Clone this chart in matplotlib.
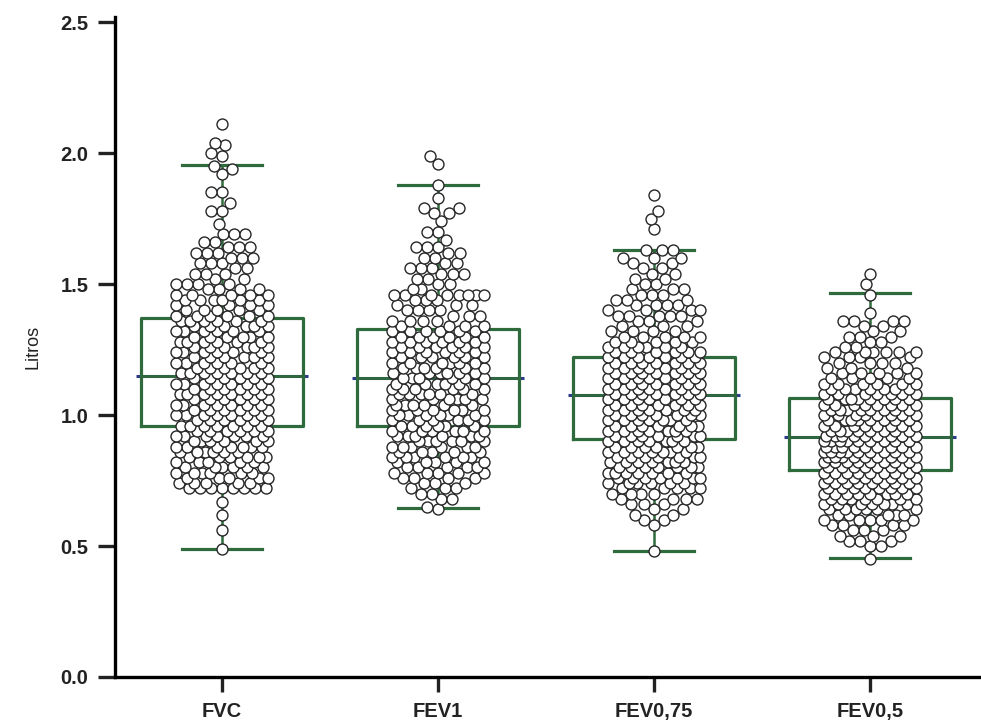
import numpy as np
import matplotlib
matplotlib.use('Agg')
import matplotlib.pyplot as plt

plt.rcParams['font.family'] = ['Liberation Sans', 'DejaVu Sans']

categories = ['FVC', 'FEV1', 'FEV0,75', 'FEV0,5']

# values (litros), with how many points sit at each value
fvc_levels = [0.49, 0.56, 0.62, 0.67, 0.72,
              0.74, 0.76, 0.78, 0.80, 0.82, 0.84, 0.86, 0.88, 0.90, 0.92,
              0.94, 0.96, 0.98, 1.00, 1.02, 1.04, 1.06, 1.08, 1.10, 1.12,
              1.14, 1.16, 1.18, 1.20, 1.22, 1.24, 1.26, 1.28, 1.30, 1.32,
              1.34, 1.36, 1.38, 1.40, 1.42, 1.44, 1.46, 1.48, 1.50, 1.52,
              1.54, 1.56, 1.58, 1.60, 1.62, 1.64, 1.66,
              1.69, 1.73, 1.78, 1.81, 1.85, 1.92, 1.94, 1.95, 1.99, 2.00, 2.03, 2.04, 2.11]
fvc_counts = [1, 1, 1, 1, 8,
              5, 5, 6, 6, 5, 6, 6, 7, 6, 7,
              6, 7, 6, 7, 6, 7, 6, 7, 6, 7,
              6, 7, 6, 6, 6, 6, 6, 6, 6, 6,
              6, 6, 6, 5, 4, 6, 5, 4, 4, 2,
              3, 2, 3, 3, 3, 3, 2,
              3, 1, 2, 1, 2, 1, 1, 1, 1, 1, 1, 1, 1]

fev1_levels = [0.64, 0.65, 0.68, 0.70,
               0.72, 0.74, 0.76, 0.78, 0.80, 0.82, 0.84, 0.86, 0.88, 0.90,
               0.92, 0.94, 0.96, 0.98, 1.00, 1.02, 1.04, 1.06, 1.08, 1.10,
               1.12, 1.14, 1.16, 1.18, 1.20, 1.22, 1.24, 1.26, 1.28, 1.30,
               1.32, 1.34, 1.36, 1.38, 1.40, 1.42, 1.44, 1.46, 1.48, 1.50,
               1.52, 1.54, 1.56, 1.58, 1.60, 1.62, 1.64,
               1.67, 1.70, 1.74, 1.77, 1.79, 1.83, 1.88, 1.96, 1.99]
fev1_counts = [1, 1, 2, 2,
               3, 3, 4, 5, 5, 5, 6, 5, 6, 6,
               6, 6, 6, 6, 6, 6, 6, 6, 6, 6,
               6, 6, 6, 6, 6, 6, 6, 6, 6, 6,
               6, 4, 4, 3, 4, 3, 3, 8, 2, 2,
               2, 3, 3, 2, 2, 2, 3,
               1, 2, 1, 2, 2, 1, 1, 1, 1]

fev075_levels = [0.48, 0.58,
                 0.60, 0.62, 0.64, 0.66, 0.68, 0.70, 0.72, 0.74, 0.76, 0.78,
                 0.80, 0.82, 0.84, 0.86, 0.88, 0.90, 0.92, 0.94, 0.96, 0.98,
                 1.00, 1.02, 1.04, 1.06, 1.08, 1.10, 1.12, 1.14, 1.16, 1.18,
                 1.20, 1.22, 1.24, 1.26, 1.28, 1.30, 1.32, 1.34, 1.36, 1.38,
                 1.40, 1.42, 1.44, 1.46, 1.48, 1.50, 1.52, 1.54, 1.56, 1.58,
                 1.60, 1.63, 1.71, 1.75, 1.78, 1.84]
fev075_counts = [1, 1,
                 2, 2, 2, 3, 4, 4, 5, 6, 7, 7,
                 7, 7, 7, 7, 7, 7, 7, 7, 7, 7,
                 7, 7, 7, 7, 7, 7, 7, 7, 7, 7,
                 7, 7, 6, 6, 5, 5, 4, 3, 3, 5,
                 4, 4, 3, 3, 3, 2, 2, 2, 2, 2,
                 3, 3, 1, 1, 1, 1]

fev05_levels = [0.45, 0.50,
                0.52, 0.54, 0.56, 0.58, 0.60, 0.62, 0.64, 0.66, 0.68, 0.70,
                0.72, 0.74, 0.76, 0.78, 0.80, 0.82, 0.84, 0.86, 0.88, 0.90,
                0.92, 0.94, 0.96, 0.98, 1.00, 1.02, 1.04, 1.06, 1.08, 1.10,
                1.12, 1.14, 1.16, 1.18, 1.20, 1.22, 1.24, 1.26, 1.28, 1.30,
                1.32, 1.34, 1.36, 1.39, 1.46, 1.50, 1.54]
fev05_counts = [1, 2,
                3, 3, 3, 4, 5, 5, 6, 7, 7, 8,
                8, 8, 8, 8, 8, 8, 9, 9, 9, 9,
                9, 8, 8, 8, 8, 8, 8, 8, 7, 7,
                6, 5, 5, 3, 4, 4, 6, 2, 2, 3,
                2, 2, 4, 1, 1, 1, 1]

# box statistics
q1 = [0.96, 0.96, 0.91, 0.79]
medians = [1.15, 1.14, 1.075, 0.915]
q3 = [1.37, 1.33, 1.22, 1.065]
whis_lo = [0.49, 0.645, 0.48, 0.455]
whis_hi = [1.955, 1.88, 1.63, 1.465]

groups = [(fvc_levels, fvc_counts), (fev1_levels, fev1_counts),
          (fev075_levels, fev075_counts), (fev05_levels, fev05_counts)]

W, H, DPI = 981, 726, 100
fig = plt.figure(figsize=(W / DPI, H / DPI), dpi=DPI)
ax = fig.add_axes([115 / W, 49 / H, (980 - 115) / W, (677 - 17) / H])
xlim = (-0.495, 3.51)
ylim = (0, 2.52)
ax.set_xlim(*xlim)
ax.set_ylim(*ylim)
px_x = (980 - 115) / (xlim[1] - xlim[0])
px_y = (677 - 17) / (ylim[1] - ylim[0])

green = '#2e6a3c'
navy = '#2c3a8a'


# simple beeswarm in pixel units so circles just touch
def swarm(values, d=11.0, maxhalf=46):
    ys = np.sort(np.asarray(values, dtype=float))
    yp = ys * px_y
    xs = []
    for i, y in enumerate(yp):
        nb = []
        j = i - 1
        while j >= 0 and y - yp[j] < d:
            nb.append((xs[j], yp[j]))
            j -= 1
        cands = [0.0]
        for k, (x0, y0) in enumerate(nb):
            off = np.sqrt(max(d * d - (y - y0) ** 2, 0))
            if (i + k) % 2:
                cands += [x0 - off, x0 + off]
            else:
                cands += [x0 + off, x0 - off]
        cands.sort(key=lambda c: round(abs(c), 4))
        best = None
        for c in cands:
            if abs(c) > maxhalf + 1e-6:
                continue
            if all((c - x0) ** 2 + (y - y0) ** 2 >= d * d - 1e-4 for x0, y0 in nb):
                best = c
                break
        if best is None:
            grid = np.linspace(-maxhalf, maxhalf, 41)
            score = [min((g - x0) ** 2 + (y - y0) ** 2 for x0, y0 in nb) for g in grid]
            best = grid[int(np.argmax(score))]
        xs.append(best)
    return np.array(xs) / px_x, ys


# median lines with navy tips
for i, m in enumerate(medians):
    ax.plot([i - 0.398, i + 0.398], [m, m], color=navy, lw=2.2, zorder=1,
            solid_capstyle='butt')

stats = []
for i in range(4):
    stats.append(dict(med=medians[i], q1=q1[i], q3=q3[i],
                      whislo=whis_lo[i], whishi=whis_hi[i], fliers=[]))
ax.bxp(stats, positions=range(4), widths=0.75, capwidths=0.37,
       showfliers=False, manage_ticks=False,
       boxprops=dict(color=green, lw=2.3),
       medianprops=dict(color=green, lw=2.0),
       whiskerprops=dict(color=green, lw=1.8),
       capprops=dict(color=green, lw=2.3))

for i, (levels, counts) in enumerate(groups):
    vals = np.repeat(levels, counts)
    dx, ys = swarm(vals)
    ax.scatter(i + dx, ys, s=7.9 ** 2, facecolor='white', edgecolor='#262626',
               linewidths=1.0, zorder=3, clip_on=False)

for s in ['top', 'right']:
    ax.spines[s].set_visible(False)
for s in ['left', 'bottom']:
    ax.spines[s].set_linewidth(2.4)

ax.set_yticks([0, 0.5, 1.0, 1.5, 2.0, 2.5])
ax.set_yticklabels(['0.0', '0.5', '1.0', '1.5', '2.0', '2.5'])
ax.set_xticks(range(4))
ax.set_xticklabels(categories)
ax.tick_params(axis='y', width=2.4, length=12, pad=7, labelsize=14.5,
               colors='#222222')
ax.tick_params(axis='x', width=2.4, length=11, pad=7, labelsize=14.5,
               colors='#222222')
for lab in ax.get_xticklabels() + ax.get_yticklabels():
    lab.set_fontweight('bold')
ax.set_ylabel('Litros', fontsize=13, labelpad=14, color='#222222')

fig.savefig('out.png', dpi=DPI)
